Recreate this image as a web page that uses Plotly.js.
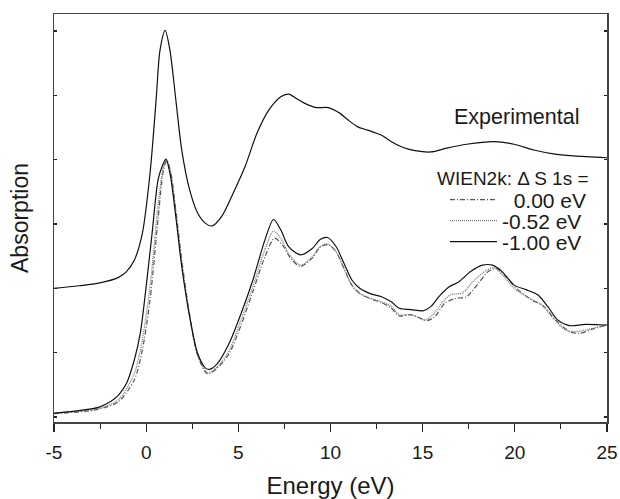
<!DOCTYPE html>
<html>
<head>
<meta charset="utf-8">
<script src="https://cdn.plot.ly/plotly-3.0.1.min.js"></script>
<style>html,body{margin:0;padding:0;background:#fff;}#chart{width:620px;height:499px;}</style>
</head>
<body>
<div id="chart"></div>
<script>
// Experimental spectrum (offset upward)
const expE = [-5.00,-3.65,-2.58,-1.50,-1.07,-0.64,-0.21,0.21,0.54,0.75,1.03,1.29,1.61,1.93,2.36,2.79,3.22,3.58,4.08,4.72,5.36,6.01,6.65,7.30,7.73,8.15,8.58,9.23,9.87,10.52,10.94,11.48,12.02,12.77,13.30,13.95,14.59,15.45,16.31,17.38,18.88,19.96,21.03,22.10,23.18,25.00];
const expA = [2.00,2.04,2.08,2.17,2.26,2.44,2.85,3.79,4.93,5.70,6.01,5.70,4.93,4.15,3.53,3.17,3.01,2.97,3.11,3.48,3.89,4.41,4.77,4.98,5.02,4.95,4.88,4.81,4.81,4.72,4.62,4.51,4.46,4.38,4.28,4.19,4.14,4.12,4.18,4.24,4.28,4.24,4.15,4.09,4.06,4.03];

// WIEN2k, ΔS 1s = 0.00 eV
const s000E = [-5.00,-3.65,-2.58,-1.50,-0.64,-0.21,0.21,0.64,0.94,1.12,1.33,1.61,1.93,2.36,2.79,3.33,3.86,4.51,5.15,5.79,6.44,6.97,7.40,7.83,8.37,9.01,9.44,9.87,10.30,10.73,11.16,11.59,12.23,12.77,13.30,13.73,14.38,15.24,15.67,16.20,16.74,17.38,18.03,18.56,18.99,19.53,20.17,20.92,21.57,22.21,22.96,23.50,24.25,25.00];
const s000A = [0.05,0.08,0.12,0.24,0.58,1.04,1.82,3.06,3.84,3.99,3.81,3.22,2.44,1.59,0.96,0.67,0.76,0.99,1.43,1.95,2.49,2.78,2.67,2.47,2.34,2.47,2.64,2.68,2.57,2.31,2.05,1.92,1.83,1.78,1.69,1.57,1.59,1.50,1.56,1.77,1.84,1.87,2.08,2.26,2.31,2.18,1.98,1.82,1.72,1.51,1.33,1.30,1.37,1.43];

// WIEN2k, ΔS 1s = -0.52 eV
const s052E = [-5.00,-3.65,-2.58,-1.50,-0.64,-0.21,0.21,0.64,0.90,1.09,1.33,1.61,1.93,2.36,2.79,3.33,3.86,4.51,5.15,5.79,6.44,6.91,7.30,7.73,8.37,9.01,9.44,9.83,10.30,10.73,11.16,11.59,12.23,12.77,13.30,13.73,14.38,15.13,15.56,16.09,16.52,17.17,17.81,18.46,18.88,19.42,19.96,20.82,21.46,22.10,22.75,23.39,24.25,25.00];
const s052A = [0.06,0.09,0.13,0.27,0.68,1.20,2.03,3.27,3.84,4.01,3.79,3.17,2.39,1.56,0.96,0.69,0.78,1.04,1.51,2.03,2.60,2.89,2.78,2.54,2.36,2.49,2.65,2.69,2.57,2.31,2.05,1.92,1.84,1.79,1.72,1.59,1.59,1.51,1.59,1.79,1.90,1.93,2.13,2.28,2.32,2.18,2.00,1.84,1.74,1.53,1.35,1.33,1.38,1.43];

// WIEN2k, ΔS 1s = -1.00 eV
const s100E = [-5.00,-3.65,-2.58,-1.93,-1.50,-1.07,-0.64,-0.32,0.00,0.32,0.64,0.86,1.07,1.29,1.61,1.93,2.36,2.79,3.22,3.43,3.86,4.51,5.15,5.79,6.44,6.91,7.30,7.73,8.37,9.01,9.44,9.83,10.30,10.73,11.16,11.59,12.23,12.77,13.30,13.73,14.38,15.02,15.45,15.88,16.42,16.95,17.60,18.24,18.78,19.31,19.96,20.60,21.24,21.78,22.32,22.96,23.82,25.00];
const s100A = [0.06,0.10,0.15,0.24,0.34,0.52,0.89,1.30,2.03,2.85,3.68,3.89,4.01,3.79,3.11,2.34,1.56,0.99,0.76,0.74,0.83,1.15,1.61,2.13,2.75,3.07,2.91,2.65,2.52,2.62,2.76,2.79,2.65,2.39,2.13,2.00,1.91,1.87,1.79,1.69,1.67,1.65,1.72,1.87,2.02,2.10,2.26,2.36,2.36,2.26,2.05,1.98,1.90,1.72,1.51,1.42,1.44,1.43];

// Axis tick labels
const xTickVals = [-5, 0, 5, 10, 15, 20, 25];
const xTickText = ["-5", "0", "5", "10", "15", "20", "25"];

const legendTitle = "WIEN2k: \u0394 S 1s =";
const names = ["\u00a0\u00a00.00 eV", "-0.52 eV", "-1.00 eV"];
const expLabel = "Experimental";

const FONT = "Liberation Sans, Arial, Helvetica, sans-serif";
const TXT = "#1a1a1a";

const traces = [
  {x: expE, y: expA, type: "scatter", mode: "lines", name: expLabel, showlegend: false,
   line: {color: "#111", width: 1.2, shape: "spline", smoothing: 0.8}},
  {x: s000E, y: s000A, type: "scatter", mode: "lines", name: names[0], legend: "legend",
   line: {color: "#555", width: 1.2, dash: "5px,2px,1px,2px", shape: "spline", smoothing: 0.8}},
  {x: s052E, y: s052A, type: "scatter", mode: "lines", name: names[1], legend: "legend2",
   line: {color: "#777", width: 1.3, dash: "1px,1px", shape: "spline", smoothing: 0.8}},
  {x: s100E, y: s100A, type: "scatter", mode: "lines", name: names[2], legend: "legend3",
   line: {color: "#111", width: 1.2, shape: "spline", smoothing: 0.8}}
];

function legendAt(ypaper) {
  return {
    x: 0.707, y: ypaper, xanchor: "left", yanchor: "middle",
    bgcolor: "rgba(0,0,0,0)", borderwidth: 0,
    font: {size: 21, family: FONT, color: TXT},
    itemwidth: 47
  };
}

const layout = {
  width: 620, height: 499,
  margin: {l: 54, r: 13, t: 14, b: 77},
  paper_bgcolor: "#fff", plot_bgcolor: "#fff",
  font: {family: FONT, color: TXT, size: 19},
  xaxis: {
    range: [-5, 25], tickmode: "array", tickvals: xTickVals, ticktext: xTickText,
    showgrid: false, zeroline: false,
    showline: true, linecolor: "#444", linewidth: 1.5, mirror: true,
    ticks: "outside", ticklen: 8, tickwidth: 1.2, tickcolor: "#222",
    minor: {tickmode: "linear", tick0: -5, dtick: 2.5, ticks: "outside", ticklen: 5, tickwidth: 1, tickcolor: "#222"},
    ticklabelstandoff: 5,
    tickfont: {size: 19, family: FONT, color: TXT},
    title: {text: "Energy (eV)", font: {size: 24, family: FONT, color: TXT}, standoff: 22},
    automargin: false
  },
  xaxis2: {
    overlaying: "x", side: "top", anchor: "y", matches: "x",
    range: [-5, 25], dtick: 2.5, tick0: 0,
    showgrid: false, zeroline: false, showline: false,
    ticks: "inside", ticklen: 3, tickwidth: 1.2, tickcolor: "#222",
    showticklabels: false
  },
  yaxis: {
    range: [-0.078, 6.265], dtick: 1, tick0: 0,
    showgrid: false, zeroline: false,
    showline: true, linecolor: "#444", linewidth: 1.5, mirror: "ticks",
    ticks: "inside", ticklen: 3, tickwidth: 1.2, tickcolor: "#222",
    showticklabels: false,
    title: {text: "Absorption", font: {size: 23, family: FONT, color: TXT}, standoff: 17}
  },
  showlegend: true,
  legend: legendAt(0.544),
  legend2: legendAt(0.4926),
  legend3: legendAt(0.441),
  annotations: [
    {x: 20.1, y: 4.66, xref: "x", yref: "y", text: expLabel, showarrow: false,
     xanchor: "center", yanchor: "middle", font: {size: 21.5, family: FONT, color: TXT}},
    {x: 0.689, y: 0.598, xref: "paper", yref: "paper", text: legendTitle, showarrow: false,
     xanchor: "left", yanchor: "middle", font: {size: 19, family: FONT, color: TXT}}
  ]
};

Plotly.newPlot("chart", traces, layout, {displayModeBar: false, staticPlot: true});
</script>
</body>
</html>
